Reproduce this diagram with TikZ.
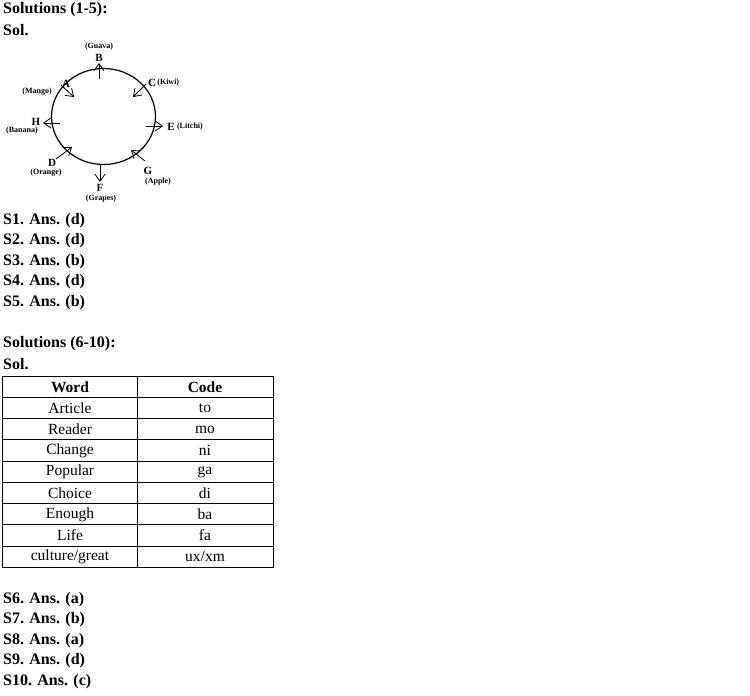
\documentclass[tikz,border=0pt]{standalone}
\usepackage{fontspec}
\setmainfont{Liberation Serif}
\usetikzlibrary{arrows.meta,positioning}

\begin{document}
\begin{tikzpicture}[
    x=1pt, y=-1pt,
    line/.style={anchor=west, font=\fontsize{16}{16}\selectfont\bfseries, inner sep=0pt},
    fruit/.style={font=\fontsize{8}{8}\selectfont\bfseries, inner sep=0pt},
    letter/.style={font=\fontsize{11}{11}\selectfont\bfseries, inner sep=0pt},
    cell/.style={font=\fontsize{15.5}{15.5}\selectfont, inner sep=0pt},
    arrow/.style={-{Straight Barb[length=2.5mm, width=3.5mm]}, thick}
  ]
    \useasboundingbox (0,0) rectangle (750,696);

    % Headings and answers
    \node[line] (h1) at (3,10) {Solutions (1-5):};
    \node[line] (s1) at (3,30) {Sol.};
    \foreach \n/\a/\y in {1/d/221,2/d/241,3/b/262,4/d/282,5/b/303}
      \node[line] (ans\n) at (3,\y) {S\n. Ans. (\a)};
    \node[line] (h2) at (3,344) {Solutions (6-10):};
    \node[line] (s2) at (3,364) {Sol.};
    \foreach \n/\a/\y in {6/a/600,7/b/620,8/a/641,9/d/661,10/c/682}
      \node[line] (ans\n) at (3,\y) {S\n. Ans. (\a)};

    % Circle
    \draw[line width=1.2pt] (103.5,116.5) ellipse (52 and 48);

    % Arrows
    \coordinate (bin) at (99,79);   \coordinate (bout) at (99,63);
    \coordinate (cin) at (133,97);  \coordinate (cout) at (146,84);
    \coordinate (ain) at (74,97);   \coordinate (aout) at (61,85);
    \coordinate (ein) at (146,126); \coordinate (eout) at (163,126);
    \coordinate (hin) at (60,123);  \coordinate (hout) at (43,123);
    \coordinate (gin) at (131,150); \coordinate (gout) at (145,161);
    \coordinate (fin) at (100,164); \coordinate (fout) at (100,182);
    \coordinate (din) at (72,147);  \coordinate (dout) at (56,159);
    \draw[arrow] (bin) -- (bout);
    \draw[arrow] (cout) -- (cin);
    \draw[arrow] (aout) -- (ain);
    \draw[arrow] (ein) -- (eout);
    \draw[arrow] (hin) -- (hout);
    \draw[arrow] (gout) -- (gin);
    \draw[arrow] (fin) -- (fout);
    \draw[arrow] (dout) -- (din);

    % Labels
    \node[fruit] (guava) at (99,47) {(Guava)};
    \node[letter] (b) at (99,58) {B};
    \node[letter] (c) at (152,83) {C};
    \node[fruit, right=1pt of c] (kiwi) {(Kiwi)};
    \node[letter] (a) at (66,84) {A};
    \node[fruit] (mango) at (37,92) {(Mango)};
    \node[letter] (h) at (36,122) {H};
    \node[fruit] (banana) at (22,131) {(Banana)};
    \node[letter] (e) at (171,127) {E};
    \node[fruit, right=2pt of e] (litchi) {(Litchi)};
    \node[letter] (d) at (52,163) {D};
    \node[fruit] (orange) at (46,173) {(Orange)};
    \node[letter] (g) at (148,171) {G};
    \node[fruit] (apple) at (158,182) {(Apple)};
    \node[letter] (f) at (100,188) {F};
    \node[fruit] (grapes) at (101,199) {(Grapes)};

    % Table
    \draw (2,376) rectangle (273,567);
    \draw (137,376) -- (137,567);
    \foreach \i in {1,...,8}
      \draw (2,376+21.22*\i) -- (273,376+21.22*\i);
    \node[cell, font=\fontsize{15.5}{15.5}\selectfont\bfseries] (word) at (70,387) {Word};
    \node[cell, font=\fontsize{15.5}{15.5}\selectfont\bfseries] (code) at (205,387) {Code};
    \foreach \w [count=\i] in {Article,Reader,Change,Popular,Choice,Enough,Life,culture/great}
      \node[cell] (w\i) at (70,387+21.22*\i) {\w};
    \foreach \c [count=\i] in {to,mo,ni,ga,di,ba,fa,ux/xm}
      \node[cell] (c\i) at (205,387+21.22*\i) {\c};
  \end{tikzpicture}
\end{document}
